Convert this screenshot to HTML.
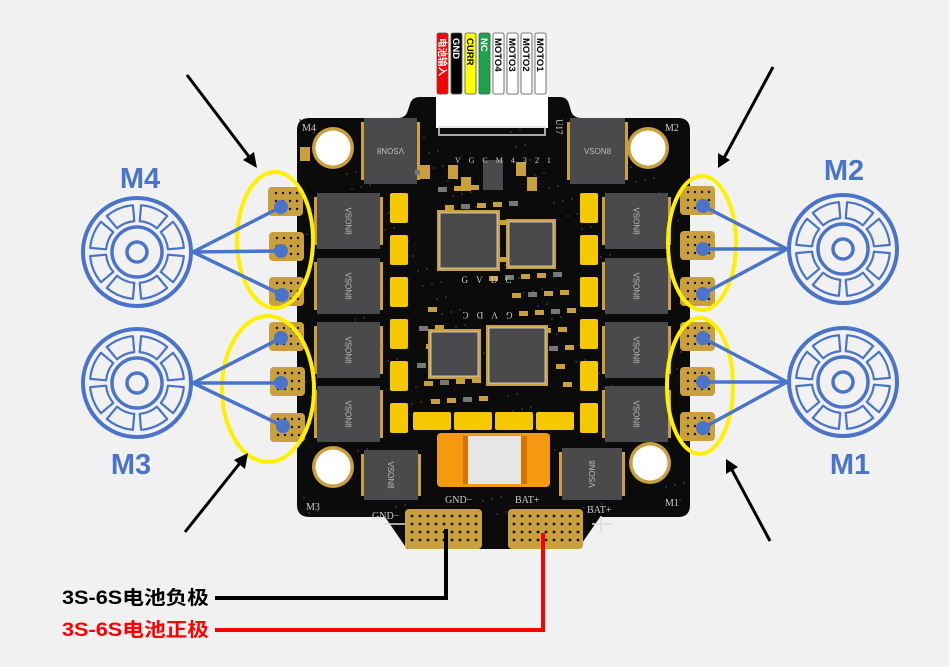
<!DOCTYPE html>
<html><head><meta charset="utf-8"><style>
html,body{margin:0;padding:0;background:#f1f1f1;}
svg{display:block}
</style></head><body>
<svg id="s" width="949" height="667" viewBox="0 0 949 667" xmlns="http://www.w3.org/2000/svg" font-family="Liberation Sans, Noto Sans CJK SC, sans-serif">
<rect width="949" height="667" fill="#f1f1f1"/>
<path d="M310,118 L398,118 Q406,118 408,110 L410,104 Q412,97 420,97 L560,97 Q567,97 569,104 L571,111 Q573,118 582,118 L678,118 Q690,118 690,130 L690,505 Q690,517 678,517 L600,517 L578,549 L407,549 L385,517 L310,517 Q297,517 297,505 L297,130 Q297,118 310,118 Z" fill="#0b0b0b"/>
<g id="board"></g>
<rect x="436" y="95" width="112" height="33" fill="#fff"/>
<rect x="439" y="127" width="106" height="8" fill="none" stroke="#ddd" stroke-width="1.5"/>
<text x="553" y="122" fill="#ddd" font-size="9" font-family="Liberation Serif,serif" transform="rotate(90 556 122)">U17</text>
<text x="455" y="163" fill="#ccc" font-size="8" font-family="Liberation Serif,serif" letter-spacing="3">V G C M 4 3 2 1</text>
<g id="wires"></g>
<rect x="437" y="433" width="113" height="54" rx="4" fill="#f59a10"/>
<rect x="442" y="436" width="28" height="48" fill="#f59a10"/>
<rect x="463" y="436" width="7" height="48" fill="#d87200"/>
<rect x="468" y="436" width="53" height="48" fill="#e6e6e6"/>
<rect x="521" y="436" width="6" height="48" fill="#d87200"/>
<g fill="#ccc" font-family="Liberation Serif,serif" font-size="10">
<text x="302" y="131">M4</text><text x="665" y="131">M2</text>
<text x="306" y="510">M3</text><text x="665" y="506">M1</text>
<text x="445" y="503">GND−</text><text x="515" y="503">BAT+</text>
<text x="372" y="519">GND−</text><text x="587" y="513">BAT+</text>
</g>
<line x1="383" y1="524" x2="405" y2="524" stroke="#ddd" stroke-width="1.5"/>
<line x1="592" y1="524" x2="612" y2="524" stroke="#ddd" stroke-width="1.5"/>
<line x1="601" y1="516" x2="601" y2="533" stroke="#ddd" stroke-width="1.5"/>
<rect x="405" y="509" width="77" height="40" rx="4" fill="#c9a03d"/>
<rect x="508" y="509" width="75" height="40" rx="4" fill="#c9a03d"/>
<g id="bdots"></g>
<g id="motorpads"></g>
<polyline points="446,529 446,598 215,598" fill="none" stroke="#000" stroke-width="4"/>
<polyline points="543,533 543,630 215,630" fill="none" stroke="#f00" stroke-width="4"/>
<text x="62" y="604" font-size="19" font-weight="bold" fill="#000" textLength="147" lengthAdjust="spacingAndGlyphs">3S-6S电池负极</text>
<text x="62" y="636" font-size="19" font-weight="bold" fill="#f00" textLength="147" lengthAdjust="spacingAndGlyphs">3S-6S电池正极</text>
<g fill="none" stroke="#ffef00" stroke-width="4">
<ellipse cx="275" cy="240" rx="38" ry="68"/>
<ellipse cx="268" cy="389" rx="46" ry="73"/>
<ellipse cx="702" cy="243" rx="34" ry="67"/>
<ellipse cx="700" cy="386" rx="33" ry="68"/>
</g>
<g id="motors"></g>
<g fill="#4a74c9" font-size="29" font-weight="bold" text-anchor="middle">
<text x="140" y="188">M4</text><text x="131" y="474">M3</text>
<text x="844" y="180">M2</text><text x="850" y="474">M1</text>
</g>
<g stroke="#000" stroke-width="3" fill="#000">
<line x1="187" y1="75" x2="250" y2="158"/><polygon points="257,168 243,160 254,152" stroke="none"/>
<line x1="185" y1="532" x2="240" y2="463"/><polygon points="248,453 245,469 234,460" stroke="none"/>
<line x1="773" y1="67" x2="724" y2="158"/><polygon points="718,168 718,153 730,160" stroke="none"/>
<line x1="770" y1="541" x2="732" y2="470"/><polygon points="726,459 738,467 726,474" stroke="none"/>
</g>
</svg>
<script>
const NS="http://www.w3.org/2000/svg";
function el(p,t,a){const e=document.createElementNS(NS,t);for(const k in a)e.setAttribute(k,a[k]);p.appendChild(e);return e;}
const B=document.getElementById('board');
for(let i=0;i<250;i++){const x=300+((i*71)%385),y=120+((i*97)%395);el(B,'circle',{cx:x,cy:y,r:0.9,fill:'#444'});}
[[333,148],[648,148],[333,467],[650,463]].forEach(([x,y])=>{el(B,'circle',{cx:x,cy:y,r:21,fill:'#c9a03d'});el(B,'circle',{cx:x,cy:y,r:17.5,fill:'#fff'});});
function vson(x,y,w,h,rot){el(B,'rect',{x:x-3,y:y+4,width:w+6,height:h-8,fill:'#c9a03d'});el(B,'rect',{x:x,y:y,width:w,height:h,fill:'#4a4a4c'});
 const t=el(B,'text',{x:x+w/2,y:y+h/2+3,fill:'#bbb','font-size':8,'text-anchor':'middle',transform:rot?`rotate(${rot} ${x+w/2} ${y+h/2})`:''});t.textContent='VSON8';}
vson(364,118,53,66,180);vson(570,118,55,66,0);
[193,258,322,386].forEach(y=>{vson(317,y,63,56,90);vson(605,y,63,56,90);});
vson(364,450,54,50,90);vson(562,448,60,52,-90);
function cap(x,y,w,h){el(B,'rect',{x,y,width:w,height:h,rx:2,fill:'#f6c800'});}
for(let y=193;y<430;y+=42){cap(390,y,18,30);cap(580,y,18,30);}
[413,454,495,536].forEach(x=>cap(x,412,38,18));
for(let i=0;i<60;i++){const x=415+((i*37)%155),y=170+((i*53)%230);el(B,'rect',{x,y,width:9,height:5,fill:(i%3?'#c9a03d':'#777')});}
function chip(x,y,w,h){el(B,'rect',{x:x-3,y:y-3,width:w+6,height:h+6,fill:'#c9a03d'});el(B,'rect',{x,y,width:w,height:h,fill:'#4a4a4c',stroke:'#ddd','stroke-width':0.8});}
chip(440,213,57,55);chip(509,222,44,44);chip(431,332,47,44);chip(489,328,56,55);
el(B,'rect',{x:483,y:160,width:20,height:30,fill:'#4a4a4c'});
[[300,155],[448,173],[461,185],[516,170],[527,185],[420,173]].forEach(([x,y])=>el(B,'rect',{x,y:y-8,width:10,height:14,fill:'#c9a03d'}));
let t=el(B,'text',{x:488,y:283,fill:'#ccc','font-size':9,'text-anchor':'middle','font-family':'Liberation Serif,serif','letter-spacing':3});t.textContent='G V D C';
t=el(B,'text',{x:486,y:318,fill:'#ccc','font-size':9,'text-anchor':'middle','font-family':'Liberation Serif,serif','letter-spacing':3,transform:'rotate(180 486 315)'});t.textContent='G V D C';
const W=document.getElementById('wires');
const wl=[['电池输入','#f00','#fff'],['GND','#000','#fff'],['CURR','#ff0','#000'],['NC','#1aa34a','#fff'],['MOTO4','#fff','#000'],['MOTO3','#fff','#000'],['MOTO2','#fff','#000'],['MOTO1','#fff','#000']];
wl.forEach((w,i)=>{const x=437+i*14;el(W,'rect',{x,y:33,width:11,height:61,rx:2,fill:w[1],stroke:'#555','stroke-width':0.8});
 const tt=el(W,'text',{x:x+2,y:38,fill:w[2],'font-size':9.5,'font-weight':'bold',transform:`rotate(90 ${x+2} 38)`,'font-family':'Liberation Sans,Noto Sans CJK SC,sans-serif'});tt.textContent=w[0];});
const BD=document.getElementById('bdots');
for(let r=0;r<4;r++)for(let c=0;c<9;c++){el(BD,'circle',{cx:412+c*8,cy:516+r*8,r:1.4,fill:'#111'});el(BD,'circle',{cx:514+c*8,cy:516+r*8,r:1.4,fill:'#111'});}
const MP=document.getElementById('motorpads');
const L=[[268,187],[269,232],[269,277],[269,322],[270,367],[270,413]];
const R=[[680,186],[680,231],[680,277],[680,322],[680,367],[680,412]];
[...L,...R].forEach(([x,y])=>{el(MP,'rect',{x,y,width:35,height:29,rx:4,fill:'#c9a03d'});for(let r=0;r<3;r++)for(let c=0;c<4;c++)el(MP,'circle',{cx:x+8+c*7,cy:y+6+r*8,r:1.2,fill:'#111'});});
const M=document.getElementById('motors');
const blue='#4a74c9';
function motor(cx,cy,dots,dir){
 const ex=cx+dir*56;
 dots.forEach(([x,y])=>{el(M,'line',{x1:ex,y1:cy,x2:x,y2:y,stroke:blue,'stroke-width':3.5});el(M,'circle',{cx:x,cy:y,r:7,fill:blue});});
 el(M,'circle',{cx,cy,r:54,fill:'none',stroke:blue,'stroke-width':4});
 el(M,'circle',{cx,cy,r:25,fill:'none',stroke:blue,'stroke-width':3.5});
 el(M,'circle',{cx,cy,r:10,fill:'none',stroke:blue,'stroke-width':3.5});
 for(let i=0;i<8;i++){const a0=(i*45+5)*Math.PI/180,a1=(i*45+40)*Math.PI/180;const r1=31,r2=47;
  const p=(r,a)=>(cx+r*Math.cos(a)).toFixed(1)+','+(cy+r*Math.sin(a)).toFixed(1);
  el(M,'path',{d:`M${p(r2,a0)} A${r2},${r2} 0 0 1 ${p(r2,a1)} L${p(r1,a1)} A${r1},${r1} 0 0 0 ${p(r1,a0)} Z`,fill:'none',stroke:blue,'stroke-width':2.2,'stroke-linejoin':'round'});}
}
motor(137,252,[[281,207],[281,251],[282,295]],1);
motor(137,383,[[281,338],[281,383],[283,426]],1);
motor(843,249,[[703,206],[703,249],[703,294]],-1);
motor(843,382,[[703,338],[703,382],[703,428]],-1);
</script>
</body></html>
